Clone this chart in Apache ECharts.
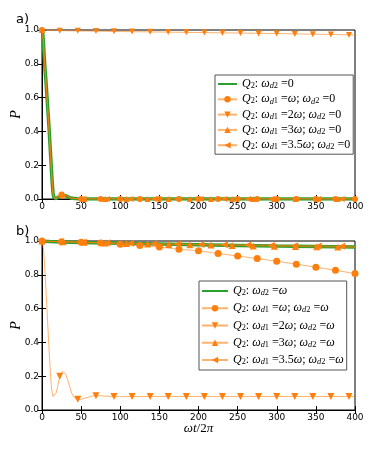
<!DOCTYPE html>
<html>
<head>
<meta charset="utf-8">
<script src="https://cdn.jsdelivr.net/npm/echarts@6/dist/echarts.min.js"></script>
<style>
  html, body { margin: 0; padding: 0; background: #fff; }
  #chart { width: 374px; height: 449px; }
</style>
</head>
<body>
<div id="chart"></div>
<script>
// ---------- data ----------
// panel a) : omega_d2 = 0
const aFastT = [0,1,2,3,4,5,6,7,8,9,10,11,12,13,14,15,16,17,18,20,22,24,26,28,30,32,34,36,38,40,45,50,60,100,200,300,400];
const aGreenP = [1.0,0.98,0.91,0.83,0.76,0.70,0.63,0.56,0.49,0.42,0.34,0.26,0.18,0.10,0.04,0.01,0.0,0.0,0.002,0.008,0.015,0.02,0.022,0.022,0.02,0.016,0.011,0.007,0.004,0.002,0.001,0,0,0,0,0,0];
const aW1P = [1.0,0.98,0.91,0.83,0.76,0.69,0.62,0.55,0.48,0.41,0.33,0.25,0.17,0.10,0.04,0.01,0.0,0.0,0.004,0.012,0.02,0.026,0.028,0.028,0.026,0.02,0.014,0.008,0.004,0.002,0.001,0,0,0,0,0,0];
const aW3P = [1.0,0.98,0.91,0.83,0.76,0.70,0.63,0.56,0.49,0.42,0.34,0.26,0.18,0.10,0.04,0.01,0.0,0.0,0.003,0.01,0.018,0.024,0.026,0.026,0.024,0.018,0.012,0.007,0.004,0.002,0.001,0,0,0,0,0,0];
const aW35P = [1.0,0.98,0.91,0.83,0.76,0.70,0.63,0.56,0.49,0.42,0.34,0.26,0.18,0.10,0.04,0.01,0.0,0.0,0.003,0.01,0.017,0.022,0.025,0.025,0.022,0.017,0.012,0.007,0.004,0.002,0.001,0,0,0,0,0,0];
const aW2T = [0,25,50,100,150,200,250,300,350,400];
const aW2P = [1.0,0.996,0.994,0.991,0.988,0.985,0.982,0.979,0.975,0.971];

const aW1Marks = [[0,1.0],[25,0.026],[50,0],[75,0],[100,0],[125,0],[150,0],[175,0],[200,0],[225,0],[250,0],[275,0],[300,0],[325,0],[350,0],[375,0],[400,0]];
const aW2Marks = [[22.7,0.996],[45.8,0.995],[68.9,0.994],[92,0.992],[115.1,0.991],[138.2,0.989],[161.3,0.988],[184.4,0.986],[207.5,0.985],[230.6,0.983],[253.7,0.982],[276.8,0.98],[299.9,0.979],[323,0.977],[346.1,0.975],[369.2,0.973],[392.3,0.971]];
const aW3Marks = [[0,1.0],[27,0.026],[54,0],[81,0],[108,0],[135,0],[162,0],[189,0],[216,0],[243,0],[270,0],[297,0],[324,0],[351,0],[378,0]];
const aW35Marks = [[23,0.017],[53,0],[83,0],[113,0],[143,0],[173,0],[203,0],[233,0],[263,0],[293,0],[323,0],[353,0],[383,0]];

// panel b) : omega_d2 = omega
const bGreenT = [0,10,25,50,100,150,200,250,300,350,400];
const bGreenP = [1.0,0.997,0.994,0.991,0.986,0.982,0.978,0.974,0.970,0.967,0.964];
const bW1T = [0,25,50,75,100,125,150,175,200,225,250,275,300,325,350,375,400];
const bW1P = [1.0,0.995,0.992,0.988,0.981,0.973,0.964,0.951,0.942,0.926,0.911,0.896,0.880,0.863,0.845,0.827,0.807];
const bW2T = [0,1,2,3,4,5,6,7,8,9,10,11,12,13,14,15,16,18,20,22,24,26,28,30,32,34,36,38,40,42,44,46,48,50,54,58,62,66,70,75,80,90,100,150,200,250,300,350,400];
const bW2P = [1.0,0.99,0.95,0.88,0.80,0.72,0.63,0.54,0.45,0.36,0.28,0.20,0.14,0.10,0.08,0.075,0.078,0.10,0.14,0.185,0.215,0.228,0.228,0.215,0.19,0.16,0.13,0.10,0.082,0.07,0.064,0.062,0.062,0.064,0.069,0.075,0.080,0.084,0.085,0.084,0.082,0.080,0.079,0.080,0.080,0.080,0.080,0.080,0.080];
const bW2Marks = [[22.7,0.2],[45.8,0.064],[68.9,0.085],[92,0.08],[115.1,0.08],[138.2,0.08],[161.3,0.08],[184.4,0.08],[207.5,0.08],[230.6,0.08],[253.7,0.08],[276.8,0.08],[299.9,0.08],[323,0.08],[346.1,0.08],[369.2,0.08],[392.3,0.08]];
const bW3T = [0,50,100,150,200,250,300,350,400];
const bW3P = [1.0,0.992,0.986,0.981,0.977,0.973,0.969,0.966,0.962];
const bW3Marks = [[0,1.0],[27,0.995],[54,0.992],[81,0.988],[108,0.985],[135,0.982],[162,0.98],[189,0.978],[216,0.976],[243,0.974],[270,0.971],[297,0.969],[324,0.967],[351,0.966],[378,0.964]];
const bW35T = [0,50,100,150,200,250,300,350,400];
const bW35P = [1.0,0.993,0.988,0.984,0.980,0.977,0.974,0.971,0.968];
const bW35Marks = [[23,0.996],[53,0.993],[83,0.99],[113,0.987],[143,0.984],[173,0.982],[203,0.98],[233,0.978],[263,0.976],[293,0.974],[323,0.972],[353,0.971],[383,0.969]];

const xTicks = [0, 400, 50];   // min, max, step
const yTicks = [0, 1, 0.2];

// legend names + math labels
const namesA = ['Q2: wd2=0', 'Q2: wd1=w; wd2=0', 'Q2: wd1=2w; wd2=0', 'Q2: wd1=3w; wd2=0', 'Q2: wd1=3.5w; wd2=0'];
const namesB = ['Q2: wd2=w', 'Q2: wd1=w; wd2=w', 'Q2: wd1=2w; wd2=w', 'Q2: wd1=3w; wd2=w', 'Q2: wd1=3.5w; wd2=w'];
const Q = '{i|Q}{s|2}{r|: }';
const WD1 = '{i|ω}{si|d}{s|1}{r| =}';
const WD2 = '{i|ω}{si|d}{s|2}{r| =}';
const labelsA = [
  Q + WD2 + '{r|0}',
  Q + WD1 + '{i|ω}{r|; }' + WD2 + '{r|0}',
  Q + WD1 + '{r|2}{i|ω}{r|; }' + WD2 + '{r|0}',
  Q + WD1 + '{r|3}{i|ω}{r|; }' + WD2 + '{r|0}',
  Q + WD1 + '{r|3.5}{i|ω}{r|; }' + WD2 + '{r|0}'
];
const labelsB = [
  Q + WD2 + '{i|ω}',
  Q + WD1 + '{i|ω}{r|; }' + WD2 + '{i|ω}',
  Q + WD1 + '{r|2}{i|ω}{r|; }' + WD2 + '{i|ω}',
  Q + WD1 + '{r|3}{i|ω}{r|; }' + WD2 + '{i|ω}',
  Q + WD1 + '{r|3.5}{i|ω}{r|; }' + WD2 + '{i|ω}'
];

// ---------- styling ----------
const GREEN = '#2ca02c';
const ORANGE = '#ff7f0e';
const ORANGE_LINE = 'rgba(255,127,14,0.6)';
const SANS = 'DejaVu Sans';
const SERIF = 'Liberation Serif';

const chart = echarts.init(document.getElementById('chart'));

function mathRich(size) {
  return {
    i: { fontFamily: SERIF, fontStyle: 'italic', fontSize: size, lineHeight: 12, verticalAlign: 'top', color: '#000' },
    r: { fontFamily: SERIF, fontSize: size, lineHeight: 12, verticalAlign: 'top', color: '#000' },
    si: { fontFamily: SERIF, fontStyle: 'italic', fontSize: size * 0.7, lineHeight: 6, verticalAlign: 'bottom', color: '#000' },
    s: { fontFamily: SERIF, fontSize: size * 0.7, lineHeight: 6, verticalAlign: 'bottom', color: '#000' }
  };
}

function line(name, t, p, gi, color, width, symbol, rotate) {
  return {
    name: name, type: 'line', xAxisIndex: gi * 2, yAxisIndex: gi * 2,
    data: t.map((x, k) => [x, p[k]]),
    showSymbol: false, symbol: symbol, symbolRotate: rotate || 0, symbolSize: 6,
    lineStyle: { color: color, width: width },
    itemStyle: { color: ORANGE },
    silent: true, animation: false, z: 2
  };
}
function marks(name, pts, gi, symbol, rotate, size) {
  return {
    name: name + ' marks', type: 'scatter', xAxisIndex: gi * 2, yAxisIndex: gi * 2,
    data: pts, symbol: symbol, symbolRotate: rotate || 0, symbolSize: size,
    itemStyle: { color: ORANGE, opacity: 1 },
    silent: true, animation: false, z: 3
  };
}

function axes(gi, withName) {
  const tickStyle = { inside: true, length: 4, lineStyle: { color: '#000', width: 1 } };
  const xs = [{
    type: 'value', gridIndex: gi, min: xTicks[0], max: xTicks[1], interval: xTicks[2],
    axisLine: { lineStyle: { color: '#000', width: 1 } }, axisTick: tickStyle,
    axisLabel: { fontFamily: SANS, fontSize: 9, color: '#000', margin: 3, showMinLabel: true, showMaxLabel: true },
    splitLine: { show: false },
    name: withName ? '{i|ωt}{r|/2}{i|π}' : '', nameLocation: 'middle', nameGap: 12, nameMoveOverlap: false,
    nameTextStyle: { rich: {
      i: { fontFamily: SERIF, fontStyle: 'italic', fontSize: 13, color: '#000' },
      r: { fontFamily: SERIF, fontSize: 13, color: '#000' } } }
  }, {
    type: 'value', gridIndex: gi, position: 'top', min: xTicks[0], max: xTicks[1], interval: xTicks[2],
    axisLine: { lineStyle: { color: '#000', width: 1 } }, axisTick: tickStyle,
    axisLabel: { show: false }, splitLine: { show: false }
  }];
  const ys = [{
    type: 'value', gridIndex: gi, min: yTicks[0], max: yTicks[1], interval: yTicks[2],
    axisLine: { lineStyle: { color: '#000', width: 1 } }, axisTick: tickStyle,
    axisLabel: { fontFamily: SANS, fontSize: 9, color: '#000', margin: 3, formatter: v => v.toFixed(1) },
    splitLine: { show: false },
    name: 'P', nameLocation: 'middle', nameGap: 19, nameMoveOverlap: false,
    nameTextStyle: { fontFamily: SERIF, fontStyle: 'italic', fontSize: 14, color: '#000' }
  }, {
    type: 'value', gridIndex: gi, position: 'right', min: yTicks[0], max: yTicks[1], interval: yTicks[2],
    axisLine: { lineStyle: { color: '#000', width: 1 } }, axisTick: tickStyle,
    axisLabel: { show: false }, splitLine: { show: false }
  }];
  return { xs, ys };
}

const axA = axes(0, false);
const axB = axes(1, true);

function legendData(names) {
  return names.map((n, k) => k === 0 ? { name: n, itemStyle: { opacity: 0 } } : { name: n });
}

const option = {
  backgroundColor: '#fff',
  animation: false,
  title: [
    { text: 'a)', left: 11, top: 8, textStyle: { fontFamily: SANS, fontSize: 13, fontWeight: 'normal', color: '#000' } },
    { text: 'b)', left: 11, top: 220, textStyle: { fontFamily: SANS, fontSize: 13, fontWeight: 'normal', color: '#000' } }
  ],
  grid: [
    { left: 42, top: 30, width: 313, height: 169, outerBoundsMode: 'none', containLabel: false,
      show: true, borderColor: '#000', borderWidth: 1, backgroundColor: 'transparent' },
    { left: 42, top: 241, width: 313, height: 169, outerBoundsMode: 'none', containLabel: false,
      show: true, borderColor: '#000', borderWidth: 1, backgroundColor: 'transparent' }
  ],
  xAxis: [...axA.xs, ...axB.xs],
  yAxis: [...axA.ys, ...axB.ys],
  legend: [
    {
      data: legendData(namesA), orient: 'vertical', left: 215, top: 75,
      itemWidth: 19, itemHeight: 8, itemGap: 3.3, padding: [3, 3, 3, 2],
      backgroundColor: '#fff', borderColor: '#555', borderWidth: 1, borderRadius: 0,
      selectedMode: false,
      formatter: n => labelsA[namesA.indexOf(n)],
      textStyle: { rich: mathRich(12) }
    },
    {
      data: legendData(namesB), orient: 'vertical', left: 199, top: 281,
      itemWidth: 26, itemHeight: 8, itemGap: 5.25, padding: [4, 3, 4, 2],
      backgroundColor: '#fff', borderColor: '#555', borderWidth: 1, borderRadius: 0,
      selectedMode: false,
      formatter: n => labelsB[namesB.indexOf(n)],
      textStyle: { rich: mathRich(12) }
    }
  ],
  series: [
    line(namesA[0], aFastT, aGreenP, 0, GREEN, 3.5, 'none'),
    line(namesA[1], aFastT, aW1P, 0, ORANGE_LINE, 1, 'circle'),
    line(namesA[2], aW2T, aW2P, 0, ORANGE_LINE, 1, 'triangle', 180),
    line(namesA[3], aFastT, aW3P, 0, ORANGE_LINE, 1, 'triangle'),
    line(namesA[4], aFastT, aW35P, 0, ORANGE_LINE, 1, 'triangle', 90),
    marks(namesA[1], aW1Marks, 0, 'circle', 0, 6),
    marks(namesA[2], aW2Marks, 0, 'triangle', 180, 6),
    marks(namesA[3], aW3Marks, 0, 'triangle', 0, 6),
    marks(namesA[4], aW35Marks, 0, 'triangle', 90, 6),

    line(namesB[0], bGreenT, bGreenP, 1, GREEN, 3.5, 'none'),
    line(namesB[1], bW1T, bW1P, 1, ORANGE_LINE, 1, 'circle'),
    line(namesB[2], bW2T, bW2P, 1, ORANGE_LINE, 1, 'triangle', 180),
    line(namesB[3], bW3T, bW3P, 1, ORANGE_LINE, 1, 'triangle'),
    line(namesB[4], bW35T, bW35P, 1, ORANGE_LINE, 1, 'triangle', 90),
    marks(namesB[1], bW1T.map((x, k) => [x, bW1P[k]]), 1, 'circle', 0, 7),
    marks(namesB[2], bW2Marks, 1, 'triangle', 180, 7),
    marks(namesB[3], bW3Marks, 1, 'triangle', 0, 7),
    marks(namesB[4], bW35Marks, 1, 'triangle', 90, 7)
  ]
};

chart.setOption(option);
</script>
</body>
</html>
